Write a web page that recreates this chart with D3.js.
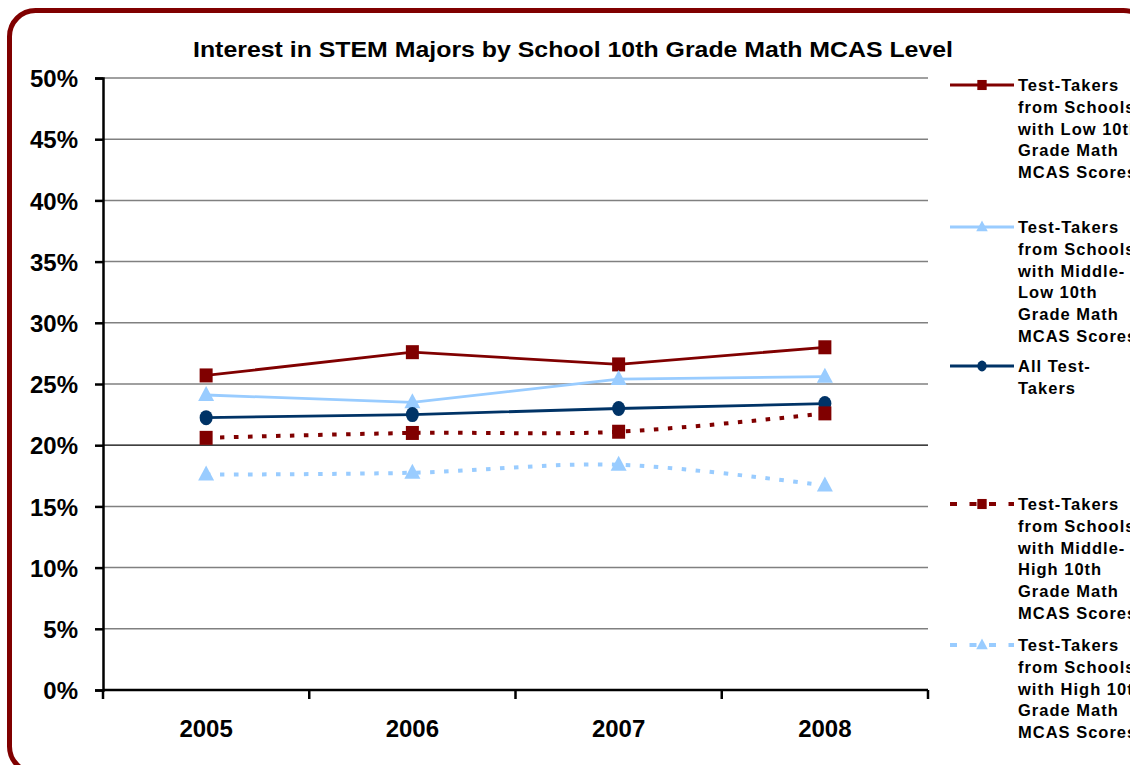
<!DOCTYPE html>
<html>
<head>
<meta charset="utf-8">
<script src="https://cdn.jsdelivr.net/npm/d3@7"></script>
<style>
  html, body { margin: 0; padding: 0; background: #fff; }
  svg { display: block; font-family: "Liberation Sans", Arial, sans-serif; }
</style>
</head>
<body>
<svg id="chart" width="1130" height="765"></svg>
<script>
// Years on the category axis
const years = ["2005", "2006", "2007", "2008"];

// Share of test-takers interested in STEM majors, by school MCAS level
const lowScores        = [25.7, 27.6, 26.6, 28.0];
const middleLowScores  = [24.1, 23.5, 25.4, 25.6];
const allTestTakers    = [22.25, 22.5, 23.0, 23.4];
const middleHighScores = [20.6, 21.0, 21.1, 22.6];
const highScores       = [17.6, 17.75, 18.4, 16.7];

// Y axis ticks (percent)
const yTicks = [0, 5, 10, 15, 20, 25, 30, 35, 40, 45, 50];

const legendLabels = [
  ["Test-Takers", "from Schools", "with Low 10th", "Grade Math", "MCAS Scores"],
  ["Test-Takers", "from Schools", "with Middle-", "Low 10th", "Grade Math", "MCAS Scores"],
  ["All Test-", "Takers"],
  ["Test-Takers", "from Schools", "with Middle-", "High 10th", "Grade Math", "MCAS Scores"],
  ["Test-Takers", "from Schools", "with High 10th", "Grade Math", "MCAS Scores"]
];

const RED = "#800000", LIGHT = "#99CCFF", NAVY = "#003366";

const series = [
  { values: lowScores,        color: RED,   marker: "square",   dashed: false, legendY: 85 },
  { values: middleLowScores,  color: LIGHT, marker: "triangle", dashed: false, legendY: 227 },
  { values: allTestTakers,    color: NAVY,  marker: "circle",   dashed: false, legendY: 366 },
  { values: middleHighScores, color: RED,   marker: "square",   dashed: true,  legendY: 504 },
  { values: highScores,       color: LIGHT, marker: "triangle", dashed: true,  legendY: 645 }
];

const svg = d3.select("#chart");

// Rounded frame around the whole chart
svg.append("rect")
  .attr("x", 9.5).attr("y", 10.5)
  .attr("width", 1140).attr("height", 762)
  .attr("rx", 26).attr("ry", 26)
  .attr("fill", "#fff")
  .attr("stroke", "#800000")
  .attr("stroke-width", 5);

const plot = { left: 103, right: 928, top: 78, bottom: 690 };

const x = d3.scaleBand().domain(years).range([plot.left, plot.right]);
const y = d3.scaleLinear().domain([0, 50]).range([plot.bottom, plot.top]);

// Title
svg.append("text")
  .attr("x", 193).attr("y", 57)
  .attr("font-weight", "bold")
  .attr("font-size", 22)
  .attr("textLength", 760)
  .attr("lengthAdjust", "spacingAndGlyphs")
  .text("Interest in STEM Majors by School 10th Grade Math MCAS Level");

// Horizontal gridlines
svg.append("g").selectAll("line")
  .data(yTicks.filter(t => t > 0))
  .join("line")
  .attr("x1", plot.left).attr("x2", plot.right)
  .attr("y1", d => y(d)).attr("y2", d => y(d))
  .attr("stroke", d => d === 20 ? "#000" : "#808080")
  .attr("stroke-width", d => d === 20 ? 1.2 : 1.5);

// Y axis
const yAxis = svg.append("g")
  .attr("transform", `translate(${plot.left},0)`)
  .call(d3.axisLeft(y).tickValues(yTicks).tickSize(8).tickPadding(17).tickFormat(d => d + "%"));
yAxis.select(".domain").attr("stroke", "#000").attr("stroke-width", 2.5);
yAxis.selectAll(".tick line").attr("stroke", "#000").attr("stroke-width", 2.5);
yAxis.selectAll(".tick text")
  .attr("font-family", "Liberation Sans, Arial, sans-serif")
  .attr("font-weight", "bold").attr("font-size", 24).attr("fill", "#000")
  .attr("dy", "0.36em");

// X axis: ticks sit between categories
const xAxis = svg.append("g").attr("transform", `translate(0,${plot.bottom})`);
xAxis.append("line")
  .attr("x1", plot.left).attr("x2", plot.right)
  .attr("stroke", "#000").attr("stroke-width", 2.5);
const bounds = years.map(d => x(d)).concat([x(years[years.length - 1]) + x.bandwidth()]);
xAxis.selectAll(".tk").data(bounds).join("line")
  .attr("x1", d => d).attr("x2", d => d)
  .attr("y1", 0).attr("y2", 9)
  .attr("stroke", "#000").attr("stroke-width", 2.5);
xAxis.selectAll(".lbl").data(years).join("text")
  .attr("x", d => x(d) + x.bandwidth() / 2)
  .attr("y", 47)
  .attr("text-anchor", "middle")
  .attr("font-weight", "bold").attr("font-size", 24)
  .text(d => d);

const cx = d => x(d) + x.bandwidth() / 2;

function drawMarker(g, kind, color, px, py, s) {
  if (kind === "square") {
    g.append("rect")
      .attr("x", px - 6.5 * s).attr("y", py - 7 * s)
      .attr("width", 13 * s).attr("height", 14 * s)
      .attr("fill", color);
  } else if (kind === "triangle") {
    g.append("path")
      .attr("d", `M${px},${py - 9 * s} L${px + 8 * s},${py + 6 * s} L${px - 8 * s},${py + 6 * s} Z`)
      .attr("fill", color);
  } else {
    g.append("ellipse")
      .attr("cx", px).attr("cy", py)
      .attr("rx", 6.5 * s).attr("ry", 7.5 * s)
      .attr("fill", color);
  }
}

// Series lines and markers
series.forEach(s => {
  const line = d3.line()
    .x((d, i) => cx(years[i]))
    .y(d => y(d))
    .curve(s.dashed ? d3.curveCatmullRom.alpha(0.5) : d3.curveLinear);
  const g = svg.append("g");
  g.append("path")
    .datum(s.values)
    .attr("d", line)
    .attr("fill", "none")
    .attr("stroke", s.color)
    .attr("stroke-width", s.dashed ? 4 : 2.8)
    .attr("stroke-dasharray", s.dashed ? "4.5,9.5" : null);
  s.values.forEach((v, i) => drawMarker(g, s.marker, s.color, cx(years[i]), y(v), 1));
});

// Legend
const legend = svg.append("g");
series.forEach((s, k) => {
  const g = legend.append("g");
  g.append("line")
    .attr("x1", 950).attr("x2", 1014)
    .attr("y1", s.legendY).attr("y2", s.legendY)
    .attr("stroke", s.color)
    .attr("stroke-width", s.dashed ? 4 : 2.8)
    .attr("stroke-dasharray", s.dashed ? "7,12.5" : null);
  drawMarker(g, s.marker, s.color, 982, s.legendY, 0.72);
  const t = g.append("text")
    .attr("x", 1018)
    .attr("y", s.legendY + 6)
    .attr("font-weight", "bold")
    .attr("font-size", 16.5)
    .attr("letter-spacing", 1.0);
  legendLabels[k].forEach((ln, j) => {
    t.append("tspan").attr("x", 1018).attr("dy", j === 0 ? 0 : 21.8).text(ln);
  });
});
</script>
</body>
</html>
